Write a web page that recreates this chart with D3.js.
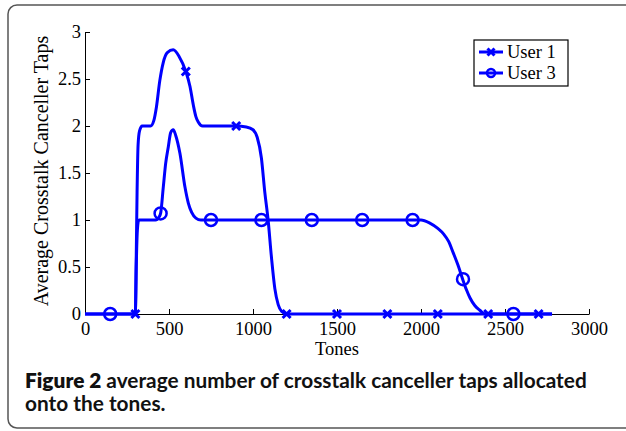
<!DOCTYPE html>
<html>
<head>
<meta charset="utf-8">
<script src="https://cdn.jsdelivr.net/npm/d3@7"></script>
<style>
  body { margin: 0; background: #fff; }
  svg { display: block; }
</style>
</head>
<body>
<div id="chart"></div>
<script>
// curve of user 1 (tone, taps)
var user1Tones = [0, 290, 300, 305, 310, 316, 325, 340, 390, 410, 425, 445, 465, 490, 525, 560, 600, 625, 645, 660, 675, 700, 900, 960, 1000, 1025, 1050, 1070, 1090, 1110, 1130, 1150, 1170, 1200, 2780];
var user1Taps  = [0, 0, 0.02, 0.6, 1.3, 1.8, 1.95, 2.0, 2.0, 2.06, 2.2, 2.48, 2.67, 2.78, 2.81, 2.74, 2.58, 2.42, 2.22, 2.1, 2.04, 2.0, 2.0, 1.99, 1.96, 1.88, 1.66, 1.3, 1.0, 0.6, 0.27, 0.1, 0.03, 0, 0];
// curve of user 3
var user3Tones = [0, 290, 300, 305, 312, 320, 420, 440, 450, 466, 480, 496, 510, 525, 540, 565, 595, 615, 635, 660, 690, 2000, 2050, 2100, 2135, 2165, 2192, 2220, 2248, 2270, 2292, 2320, 2350, 2380, 2780];
var user3Taps  = [0, 0, 0.02, 0.5, 0.9, 1.0, 1.0, 1.03, 1.07, 1.35, 1.6, 1.78, 1.93, 1.96, 1.9, 1.71, 1.35, 1.18, 1.08, 1.02, 1.0, 1.0, 0.97, 0.91, 0.85, 0.77, 0.65, 0.52, 0.37, 0.26, 0.17, 0.09, 0.04, 0, 0];
// marker positions
var user1MarkTones = [300, 600, 900, 1200, 1500, 1800, 2100, 2400, 2700];
var user1MarkTaps  = [0, 2.58, 2.0, 0, 0, 0, 0, 0, 0];
var user3MarkTones = [150, 450, 750, 1050, 1350, 1650, 1950, 2250, 2550];
var user3MarkTaps  = [0, 1.07, 1.0, 1.0, 1.0, 1.0, 1.0, 0.37, 0];
var xTicks = [0, 500, 1000, 1500, 2000, 2500, 3000];
var yTicks = [0, 0.5, 1, 1.5, 2, 2.5, 3];
var seriesNames = ['User 1', 'User 3'];

var W = 626, H = 431;
var margin = { top: 32, right: 37, bottom: 117, left: 85 },
    width = W - margin.left - margin.right,
    height = H - margin.top - margin.bottom;

var svg = d3.select('#chart').append('svg')
    .attr('width', W)
    .attr('height', H);

// figure frame
svg.append('rect')
    .attr('x', 8).attr('y', 5)
    .attr('width', 660).attr('height', 423)
    .attr('rx', 9)
    .attr('fill', 'none')
    .attr('stroke', '#555')
    .attr('stroke-width', 1.5);

var g = svg.append('g')
    .attr('transform', 'translate(' + margin.left + ',' + margin.top + ')');

var x = d3.scaleLinear().domain([0, 3000]).range([0, width]);
var y = d3.scaleLinear().domain([0, 3]).range([height, 0]);

var serif = '"Liberation Serif", "Times New Roman", serif';

var xAxis = g.append('g')
    .attr('transform', 'translate(0,' + height + ')')
    .call(d3.axisBottom(x).tickValues(xTicks).tickFormat(d3.format('d'))
        .tickSizeInner(-5).tickSizeOuter(0).tickPadding(8));
var yAxis = g.append('g')
    .call(d3.axisLeft(y).tickValues(yTicks).tickFormat(function(d){ return d3.format('')(d); })
        .tickSizeInner(-5).tickSizeOuter(0).tickPadding(5));

[xAxis, yAxis].forEach(function(a){
    a.select('.domain').attr('stroke', '#000').attr('stroke-width', 1);
    a.selectAll('.tick line').attr('stroke', '#000');
    a.selectAll('.tick text')
        .attr('fill', '#000')
        .style('font-family', serif)
        .style('font-size', '18.5px');
});
xAxis.selectAll('.tick text').attr('dy', '0.72em');
yAxis.selectAll('.tick text').attr('x', -4);

g.append('text')
    .attr('x', width / 2).attr('y', height + 41)
    .attr('text-anchor', 'middle')
    .style('font-family', serif).style('font-size', '18.5px')
    .text('Tones');

g.append('text')
    .attr('transform', 'translate(' + (-37) + ',' + (height / 2 - 2) + ')rotate(-90)')
    .attr('text-anchor', 'middle')
    .style('font-family', serif).style('font-size', '20px')
    .text('Average Crosstalk Canceller Taps');

var line = d3.line()
    .x(function(d){ return x(d[0]); })
    .y(function(d){ return y(d[1]); })
    .curve(d3.curveMonotoneX);

var blue = '#0000ff';
var u1 = d3.zip(user1Tones, user1Taps);
var u3 = d3.zip(user3Tones, user3Taps);

g.append('path').datum(u3)
    .attr('d', line).attr('fill', 'none')
    .attr('stroke', blue).attr('stroke-width', 3);
g.append('path').datum(u1)
    .attr('d', line).attr('fill', 'none')
    .attr('stroke', blue).attr('stroke-width', 3);

function crossMark(sel, s) {
    sel.append('path')
        .attr('d', 'M' + (-s) + ',' + (-s) + 'L' + s + ',' + s + 'M' + (-s) + ',' + s + 'L' + s + ',' + (-s))
        .attr('stroke', blue).attr('stroke-width', 3).attr('fill', 'none');
}

g.selectAll('.m1')
    .data(d3.zip(user1MarkTones, user1MarkTaps))
    .enter().append('g')
    .attr('transform', function(d){ return 'translate(' + x(d[0]) + ',' + y(d[1]) + ')'; })
    .each(function(){ crossMark(d3.select(this), 4); });

g.selectAll('.m3')
    .data(d3.zip(user3MarkTones, user3MarkTaps))
    .enter().append('circle')
    .attr('cx', function(d){ return x(d[0]); })
    .attr('cy', function(d){ return y(d[1]); })
    .attr('r', 6)
    .attr('fill', 'none')
    .attr('stroke', blue).attr('stroke-width', 2.5);

// legend
var lg = svg.append('g').attr('transform', 'translate(474,40)');
lg.append('rect')
    .attr('width', 94).attr('height', 46)
    .attr('fill', '#fff').attr('stroke', '#000').attr('stroke-width', 1.2);
seriesNames.forEach(function(name, i){
    var cy = 12 + i * 21;
    lg.append('line')
        .attr('x1', 5).attr('x2', 29).attr('y1', cy).attr('y2', cy)
        .attr('stroke', blue).attr('stroke-width', 3);
    var mk = lg.append('g').attr('transform', 'translate(17,' + cy + ')');
    if (i === 0) crossMark(mk, 3.5);
    else mk.append('circle').attr('r', 4).attr('fill', 'none').attr('stroke', blue).attr('stroke-width', 2.5);
    lg.append('text')
        .attr('x', 33).attr('y', cy + 6)
        .style('font-family', serif).style('font-size', '18.5px')
        .text(name);
});

// caption
var sans = 'Lato, "Open Sans", sans-serif';
var cap = svg.append('text')
    .attr('x', 25).attr('y', 388)
    .style('font-family', sans).style('font-size', '18px').attr('fill', '#111');
cap.append('tspan').style('font-weight', 800).text('Figure 2');
cap.append('tspan').style('font-weight', 700).text(' average number of crosstalk canceller taps allocated');
var cap2 = svg.append('text')
    .attr('x', 25).attr('y', 411)
    .style('font-family', sans).style('font-size', '18px').style('font-weight', 700).attr('fill', '#111')
    .text('onto the tones.');
// fit caption width to the reference line width
var len = cap.node().getComputedTextLength();
var fs = 18 * 562 / len;
cap.style('font-size', fs + 'px');
cap2.style('font-size', fs + 'px');
</script>
</body>
</html>
